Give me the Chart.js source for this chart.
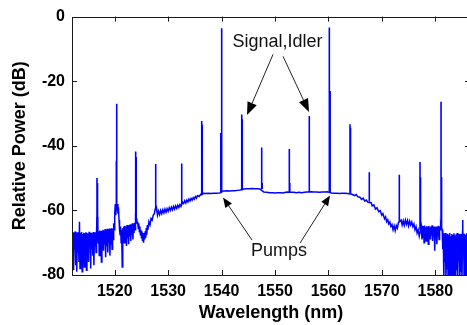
<!DOCTYPE html>
<html>
<head>
<meta charset="utf-8">
<script src="https://cdn.jsdelivr.net/npm/chart.js@4/dist/chart.umd.min.js"></script>
<style>
  html, body { margin: 0; padding: 0; background: #fff; overflow: hidden; }
  #wrap { position: relative; width: 475px; height: 325px; }
</style>
</head>
<body>
<div id="wrap"><canvas id="c"></canvas></div>
<script>
// ---- data ----
const xTicks = [1520, 1530, 1540, 1550, 1560, 1570, 1580];
const yTicks = [-80, -60, -40, -20, 0];

// spectrum floor (nm, dB)
const floorWavelength = [
  1512.0, 1512.1, 1512.2, 1512.3, 1512.4, 1512.5, 1512.6, 1512.7, 1512.8, 1512.9,
  1513.0, 1513.1, 1513.2, 1513.3, 1513.4, 1513.5, 1513.6, 1513.7, 1513.8, 1513.9,
  1514.0, 1514.1, 1514.2, 1514.3, 1514.4, 1514.5, 1514.6, 1514.7, 1514.8, 1514.9,
  1515.0, 1515.1, 1515.2, 1515.3, 1515.4, 1515.5, 1515.6, 1515.7, 1515.8, 1515.9,
  1516.0, 1516.1, 1516.2, 1516.3, 1516.4, 1516.5, 1516.6, 1516.7, 1516.8, 1516.9,
  1517.0, 1517.1, 1517.2, 1517.3, 1517.4, 1517.5, 1517.6, 1517.7, 1517.8, 1517.9,
  1518.0, 1518.1, 1518.2, 1518.3, 1518.4, 1518.5, 1518.6, 1518.7, 1518.8, 1518.9,
  1519.0, 1519.1, 1519.2, 1519.3, 1519.4, 1519.5, 1519.6, 1519.7, 1519.8, 1519.9,
  1520.0, 1520.1, 1520.2, 1520.3, 1520.4, 1520.5, 1520.6, 1520.7, 1520.8, 1520.9,
  1521.0, 1521.1, 1521.2, 1521.3, 1521.4, 1521.5, 1521.6, 1521.7, 1521.8, 1521.9,
  1522.0, 1522.1, 1522.2, 1522.3, 1522.4, 1522.5, 1522.6, 1522.7, 1522.8, 1522.9,
  1523.0, 1523.1, 1523.2, 1523.3, 1523.4, 1523.5, 1523.6, 1523.7, 1523.8, 1523.9,
  1524.1, 1524.2, 1524.3, 1524.4, 1524.5, 1524.6, 1524.7, 1524.8, 1524.9, 1525.0,
  1525.1, 1525.2, 1525.3, 1525.4, 1525.5, 1525.6, 1525.7, 1525.8, 1525.9, 1526.0,
  1526.1, 1526.2, 1526.4, 1526.6, 1526.8, 1527.0, 1527.2, 1527.4, 1527.6, 1527.8,
  1528.0, 1528.2, 1528.4, 1528.6, 1528.8, 1529.0, 1529.2, 1529.4, 1529.6, 1529.8,
  1530.0, 1530.2, 1530.4, 1530.6, 1530.8, 1531.0, 1531.2, 1531.4, 1531.6, 1531.8,
  1532.0, 1532.2, 1532.4, 1532.7, 1532.9, 1533.1, 1533.3, 1533.5, 1533.7, 1533.9,
  1534.1, 1534.3, 1534.5, 1534.7, 1534.9, 1535.1, 1535.3, 1535.5, 1535.8, 1536.1,
  1536.3, 1536.6,
  1537.0, 1537.5, 1538.0, 1538.5, 1539.0, 1539.5, 1539.9, 1540.3, 1540.6, 1541.0,
  1541.5, 1542.0, 1542.5, 1543.0, 1543.5, 1544.2, 1544.7, 1545.2, 1545.7, 1546.2,
  1546.7, 1547.2, 1547.9, 1548.4, 1549.0, 1549.5, 1550.0, 1550.5, 1551.0, 1551.5,
  1552.0, 1552.4, 1553.0, 1553.5, 1554.0, 1554.5, 1555.0, 1555.5, 1556.0, 1556.8,
  1557.3, 1557.8, 1558.3, 1558.8, 1559.3, 1559.8, 1560.6, 1561.1, 1561.6, 1562.1,
  1562.6, 1563.1, 1563.6,
  1564.4, 1564.9, 1565.2, 1565.5, 1565.9, 1566.2, 1566.5, 1566.8, 1567.1, 1567.4,
  1568.0, 1568.2, 1568.5, 1568.8, 1569.1, 1569.4, 1569.7, 1570.0, 1570.2, 1570.5,
  1570.7, 1570.9, 1571.1, 1571.3, 1571.5, 1571.7, 1571.9, 1572.1, 1572.3, 1572.5,
  1572.7, 1572.9, 1573.1, 1573.6, 1573.8, 1574.0, 1574.2, 1574.4, 1574.6, 1574.8,
  1575.0, 1575.2, 1575.4, 1575.6, 1575.8, 1576.0, 1576.2, 1576.4, 1576.6, 1576.8,
  1577.0,
  1577.4, 1577.5, 1577.6, 1577.7, 1577.8, 1577.9, 1578.0, 1578.1, 1578.2, 1578.3,
  1578.4, 1578.5, 1578.6, 1578.7, 1578.8, 1578.9, 1579.0, 1579.1, 1579.2, 1579.3,
  1579.4, 1579.5, 1579.6, 1579.7, 1579.8, 1579.9, 1580.0, 1580.1, 1580.2, 1580.3,
  1580.4, 1580.5, 1580.6, 1580.7, 1580.8, 1580.9, 1581.0, 1581.3, 1581.4, 1581.5,
  1581.6, 1581.7, 1581.8, 1581.9, 1582.0, 1582.1, 1582.2, 1582.3, 1582.4, 1582.5,
  1582.6, 1582.7, 1582.8, 1582.9, 1583.0, 1583.1, 1583.2, 1583.3, 1583.4, 1583.5,
  1583.6, 1583.7, 1583.8, 1583.9, 1584.0, 1584.1, 1584.2, 1584.3, 1584.4, 1584.5,
  1584.6, 1584.7, 1584.8, 1584.9, 1585.0, 1585.1, 1585.3, 1585.4, 1585.5, 1585.6,
  1585.7, 1585.8, 1585.9, 1586.0, 1586.1, 1586.2, 1586.3, 1586.4, 1586.5, 1586.6
];
const floorPower = [
  -67.5, -74, -66.8, -78.5, -67, -72, -66.5, -77, -67.2, -79,
  -66.8, -73, -67, -76, -63.5, -78, -67, -71, -66.7, -79,
  -67.3, -74, -66.9, -77.5, -67.1, -72, -66.8, -78.5, -67, -73,
  -67.2, -76, -66.6, -71, -67, -78, -66.9, -72, -67.3, -74,
  -66.7, -77, -67, -71, -66.8, -73, -66, -62, -64, -70,
  -66.5, -74, -66.2, -71, -66.4, -76, -66.3, -70, -66, -72.5,
  -66.2, -70.5, -65.8, -74.5, -66, -71, -65.7, -73, -66, -70,
  -65.6, -74, -65.8, -70.5, -65.5, -72, -65.6, -69, -64, -66,
  -61, -58, -61.5, -58.5, -60, -58, -61, -59, -63, -66,
  -67.5, -65, -70, -66, -77.5, -65.5, -69, -65, -70, -64.8,
  -68, -65, -71, -64.5, -68.5, -64.8, -70.5, -64.5, -68, -64.3,
  -69.5, -64.5, -67.5, -64, -69, -64.2, -67, -63.8, -66, -62,
  -62.5, -64, -63.5, -65.5, -64, -66.5, -65, -67.5, -66, -68.5,
  -66.5, -69.5, -67, -70, -67.5, -69, -66.5, -68.5, -65.5, -67.5,
  -64.5, -66, -63.5, -64.5, -62.5, -63, -61.5, -61, -59.5, -59,
  -61.5, -60.2, -61.3, -60, -61, -59.8, -60.8, -59.6, -60.6, -59.5,
  -60.3, -59.2, -60, -59, -59.8, -58.8, -59.6, -58.6, -59.4, -58.4,
  -59.1, -58.2, -58.8, -57.5, -57.9, -57, -57.7, -56.8, -57.4, -56.5,
  -57.1, -56.3, -56.8, -56, -56.5, -55.7, -56.2, -55.4, -55.7, -55,
  -55.2, -54.7,
  -54.8, -54.7, -54.8, -54.7, -54.7, -54.6, -54.5, -54, -54, -53.9,
  -54, -53.9, -53.9, -53.8, -53.7, -53.4, -53.3, -53.3, -53.2, -53.3,
  -53.3, -53.4, -54.3, -54.4, -54.5, -54.5, -54.6, -54.5, -54.5, -54.6,
  -54.4, -54.3, -54.4, -54.4, -54.5, -54.4, -54.5, -54.4, -54.3, -54.2,
  -54.3, -54.3, -54.4, -54.3, -54.3, -54.2, -54.6, -54.7, -54.7, -54.8,
  -54.7, -54.7, -54.8,
  -55, -55.4, -55.1, -55.8, -55.9, -56.6, -56.2, -57.1, -56.8, -57.5,
  -57.6, -58.6, -58.3, -59.6, -59.2, -60.4, -60.1, -61.5, -61, -62.6,
  -62, -63.5, -62.9, -64.2, -63.6, -65, -64.4, -66, -64.8, -66.3,
  -64.7, -65.5, -63.8, -63, -64.5, -63.2, -64.6, -63, -64.3, -63.1,
  -64.8, -63.3, -64.5, -63.6, -65, -64.2, -66, -65, -67, -66,
  -68,
  -65, -69, -64.8, -68.5, -65, -70, -64.7, -68, -65.2, -69.5,
  -64.9, -67.5, -65, -70.5, -64.8, -68.5, -65.2, -69, -65, -67.8,
  -64.6, -69.5, -65.1, -68, -65, -72.5, -65.3, -69, -65, -70.5,
  -65.2, -68, -64.8, -69, -65, -66, -64, -66, -72, -67,
  -82, -67.5, -76, -67, -82, -67.8, -78, -67.2, -82, -67.5,
  -75, -67, -82, -68, -79, -67.3, -82, -67.6, -77, -67.1,
  -82, -67.8, -82, -67.4, -78.5, -67, -82, -67.5, -76, -67.2,
  -82, -67.8, -79, -67.3, -82, -67, -67.5, -82, -67.2, -78,
  -67.6, -82, -67.1, -82, -67.4, -77, -67, -82, -67.5, -79
];

// spectral lines: wavelength, peak level, foot level
const peakWavelength = [1516.68, 1516.78, 1520.30, 1520.37, 1523.92, 1524.02, 1527.67, 1532.54, 1536.28, 1536.38,
  1539.85, 1540.02, 1543.77, 1543.87, 1547.51, 1547.60, 1552.68, 1552.77, 1556.42, 1560.17,
  1560.32, 1564.04, 1564.14, 1567.65, 1573.27, 1577.14, 1577.24, 1581.08, 1581.18, 1585.14];
const peakTop = [-50, -51.5, -44.6, -27, -41.8, -43.5, -45.6, -45.5, -32.3, -33.5,
  -36, -3.6, -30.3, -31.8, -40.5, -51.5, -41, -51.5, -30.8, -3.4,
  -23, -33.3, -34.4, -48.2, -49, -45, -49.7, -26.4, -49.7, -63];
const peakBase = [-66, -66, -60, -60, -63, -63, -60, -58, -55, -55,
  -54.5, -54.3, -53.8, -53.8, -53.4, -53.4, -54.4, -54.4, -54.3, -54.2,
  -54.5, -54.8, -54.8, -57.3, -63.5, -66, -66, -65, -65, -67];

// ---- build datasets ----
const floorData = floorWavelength.map((w, i) => ({ x: w, y: floorPower[i] }));
const peakData = [];
peakWavelength.forEach((w, i) => {
  peakData.push({ x: w, y: peakBase[i] });
  peakData.push({ x: w, y: peakTop[i] });
  peakData.push({ x: w, y: null });
});

// annotations in data coordinates
const labels = [
  { text: 'Signal,Idler', at: [1550.47, -9.5] },
  { text: 'Pumps', at: [1550.75, -74.15] }
];
const arrows = [
  { from: [1549.63, -11.7], to: [1544.76, -30.5], head: 13, half: 5 },
  { from: [1551.5, -12.3], to: [1556.37, -29.5], head: 13, half: 5 },
  { from: [1545.7, -69.2], to: [1540.27, -56.0], head: 10, half: 4 },
  { from: [1554.68, -70.15], to: [1560.3, -55.4], head: 10, half: 4 }
];

const FONT = '"Liberation Sans", Arial, sans-serif';

const framePlugin = {
  id: 'frame',
  afterDatasetsDraw(chart) {
    const { ctx, chartArea: a, scales: { x, y } } = chart;
    ctx.save();
    ctx.strokeStyle = '#1a1a1a';
    ctx.lineWidth = 1;
    ctx.beginPath();
    ctx.rect(Math.round(a.left) + 0.5, Math.round(a.top) + 0.5,
             Math.round(a.right - a.left), Math.round(a.bottom - a.top));
    ctx.stroke();
    const tl = 5;
    ctx.beginPath();
    xTicks.forEach(v => {
      const px = Math.round(x.getPixelForValue(v)) + 0.5;
      ctx.moveTo(px, a.bottom); ctx.lineTo(px, a.bottom - tl);
      ctx.moveTo(px, a.top); ctx.lineTo(px, a.top + tl);
    });
    yTicks.forEach(v => {
      const py = Math.round(y.getPixelForValue(v)) + 0.5;
      ctx.moveTo(a.left, py); ctx.lineTo(a.left + tl, py);
      ctx.moveTo(a.right, py); ctx.lineTo(a.right - tl, py);
    });
    ctx.stroke();

    // annotations
    ctx.fillStyle = '#111';
    ctx.font = '18px ' + FONT;
    ctx.textAlign = 'center';
    ctx.textBaseline = 'alphabetic';
    labels.forEach(l => {
      ctx.fillText(l.text, x.getPixelForValue(l.at[0]), y.getPixelForValue(l.at[1]));
    });
    arrows.forEach(ar => {
      const x0 = x.getPixelForValue(ar.from[0]), y0 = y.getPixelForValue(ar.from[1]);
      const x1 = x.getPixelForValue(ar.to[0]), y1 = y.getPixelForValue(ar.to[1]);
      const ang = Math.atan2(y1 - y0, x1 - x0);
      const bx = x1 - ar.head * Math.cos(ang), by = y1 - ar.head * Math.sin(ang);
      ctx.strokeStyle = '#222';
      ctx.lineWidth = 1;
      ctx.beginPath(); ctx.moveTo(x0, y0); ctx.lineTo(bx, by); ctx.stroke();
      ctx.beginPath();
      ctx.moveTo(x1, y1);
      ctx.lineTo(bx + ar.half * Math.sin(ang), by - ar.half * Math.cos(ang));
      ctx.lineTo(bx - ar.half * Math.sin(ang), by + ar.half * Math.cos(ang));
      ctx.closePath();
      ctx.fillStyle = '#000';
      ctx.fill();
    });
    ctx.restore();
  }
};

new Chart(document.getElementById('c'), {
  type: 'line',
  data: {
    datasets: [
      { data: floorData, borderColor: '#0000ff', borderWidth: 1.5, pointRadius: 0, tension: 0, spanGaps: false },
      { data: peakData, borderColor: '#0000ff', borderWidth: 1.6, pointRadius: 0, tension: 0, spanGaps: false }
    ]
  },
  options: {
    responsive: true,
    maintainAspectRatio: false,
    animation: false,
    events: [],
    layout: { padding: { left: 0, top: 15, right: 5, bottom: 0 } },
    plugins: { legend: { display: false }, tooltip: { enabled: false } },
    scales: {
      x: {
        type: 'linear', min: 1512, max: 1586.5,
        afterBuildTicks: s => { s.ticks = xTicks.map(v => ({ value: v })); },
        afterFit: s => { s.height = 50; },
        grid: { display: false, drawTicks: false },
        border: { display: false },
        ticks: { color: '#000', font: { family: FONT, size: 16, weight: 'bold' }, padding: 7, maxRotation: 0,
                 callback: v => String(v) },
        title: { display: true, text: 'Wavelength (nm)', color: '#000',
                 font: { family: FONT, size: 18, weight: 'bold' }, padding: { top: 0, bottom: 1 } }
      },
      y: {
        type: 'linear', min: -80, max: 0,
        afterBuildTicks: s => { s.ticks = yTicks.map(v => ({ value: v })); },
        afterFit: s => { s.width = 72; },
        grid: { display: false, drawTicks: false },
        border: { display: false },
        ticks: { color: '#000', font: { family: FONT, size: 16, weight: 'bold' }, padding: 7,
                 callback: v => String(v) },
        title: { display: true, text: 'Relative Power (dB)', color: '#000',
                 font: { family: FONT, size: 18, weight: 'bold' }, padding: { top: 9, bottom: 0 } }
      }
    }
  },
  plugins: [framePlugin]
});
</script>
</body>
</html>
